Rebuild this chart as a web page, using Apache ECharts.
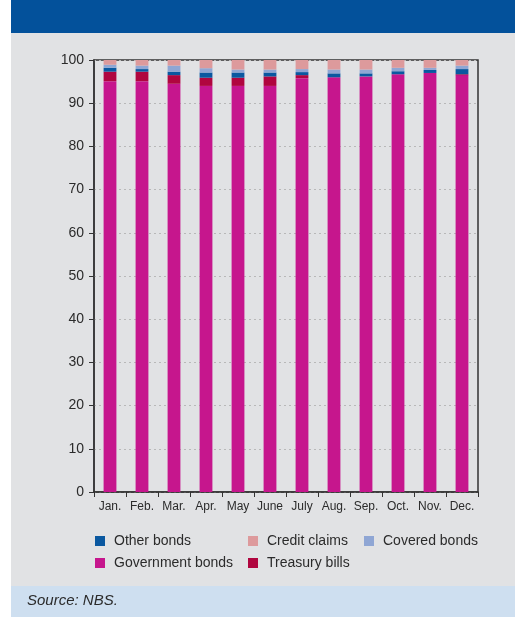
<!DOCTYPE html>
<html>
<head>
<meta charset="utf-8">
<script src="https://cdn.jsdelivr.net/npm/echarts@6/dist/echarts.min.js"></script>
<style>
html,body{margin:0;padding:0;background:#fff;}
#chart{width:515px;height:617px;}
</style>
</head>
<body>
<div id="chart"></div>
<script>
const months = ['Jan.','Feb.','Mar.','Apr.','May','June','July','Aug.','Sep.','Oct.','Nov.','Dec.'];
const governmentBonds = [95.1, 95.1, 94.5, 94.0, 94.0, 94.0, 95.8, 96.0, 96.2, 96.7, 97.0, 96.5];
const treasuryBills   = [2.2, 2.2, 2.0, 1.9, 1.9, 2.2, 0.7, 0.0, 0.0, 0.0, 0.0, 0.2];
const otherBonds      = [0.9, 0.6, 0.8, 1.2, 1.2, 0.9, 0.7, 0.9, 0.7, 0.7, 0.7, 1.2];
const coveredBonds    = [0.7, 0.8, 1.4, 1.0, 0.7, 0.7, 0.7, 0.9, 0.9, 0.8, 0.5, 0.8];
const creditClaims    = [1.1, 1.3, 1.3, 1.9, 2.2, 2.2, 2.1, 2.2, 2.2, 1.8, 1.8, 1.3];
const yTicks = [0,10,20,30,40,50,60,70,80,90,100];

const FONT = 'Liberation Sans';
const TXT = '#2b2b2b';
const chart = echarts.init(document.getElementById('chart'), null, {renderer:'canvas'});

function bar(name, data, color){
  return {name, type:'bar', stack:'total', data, barWidth:'40%',
    itemStyle:{color}, emphasis:{disabled:true}};
}

const legendCommon = {orient:'vertical', itemWidth:10, itemHeight:10, itemGap:8,
  icon:'rect', textStyle:{fontFamily:FONT, fontSize:14, color:TXT, padding:[0,0,0,4]}, selectedMode:false};

chart.setOption({
  animation:false,
  textStyle:{fontFamily:FONT},
  graphic:[
    {type:'rect', z:-10, shape:{x:11,y:33,width:504,height:553}, style:{fill:'#e1e2e4'}},
    {type:'rect', z:-10, shape:{x:11,y:0,width:504,height:33}, style:{fill:'#03519b'}},
    {type:'rect', z:-10, shape:{x:11,y:586,width:504,height:31}, style:{fill:'#cedff0'}},
    {type:'text', left:27, top:593, style:{text:'Source: NBS.', fontFamily:FONT, fontStyle:'italic', fontSize:15, fill:TXT}}
  ],
  legend:[
    Object.assign({left:90, top:529, data:['Other bonds','Government bonds']}, legendCommon),
    Object.assign({left:243, top:529, data:['Credit claims','Treasury bills']}, legendCommon),
    Object.assign({left:359, top:529, data:['Covered bonds']}, legendCommon)
  ],
  grid:{left:94, right:37, top:60, bottom:125, show:true, borderColor:'#333', borderWidth:1.5, backgroundColor:'transparent'},
  xAxis:{type:'category', data:months,
    axisLine:{lineStyle:{color:'#333', width:1.5}},
    axisTick:{show:true, alignWithLabel:false, length:5, lineStyle:{color:'#333'}},
    axisLabel:{color:TXT, fontSize:12, margin:9, interval:0, hideOverlap:false}},
  yAxis:{type:'value', min:0, max:100, interval:10,
    axisLine:{show:true, lineStyle:{color:'#333', width:1.5}},
    axisTick:{show:true, length:5, lineStyle:{color:'#333'}},
    axisLabel:{color:TXT, fontSize:14, margin:10, formatter:v=>yTicks.includes(v)?String(v):''},
    splitLine:{show:true, lineStyle:{color:'#b8b8b8', type:[2,3], width:1}}},
  series:[
    bar('Government bonds', governmentBonds, '#c6168d'),
    bar('Treasury bills', treasuryBills, '#b0063f'),
    bar('Other bonds', otherBonds, '#0a58a0'),
    bar('Covered bonds', coveredBonds, '#8fa6d4'),
    bar('Credit claims', creditClaims, '#dd9a9c')
  ]
});
</script>
</body>
</html>
